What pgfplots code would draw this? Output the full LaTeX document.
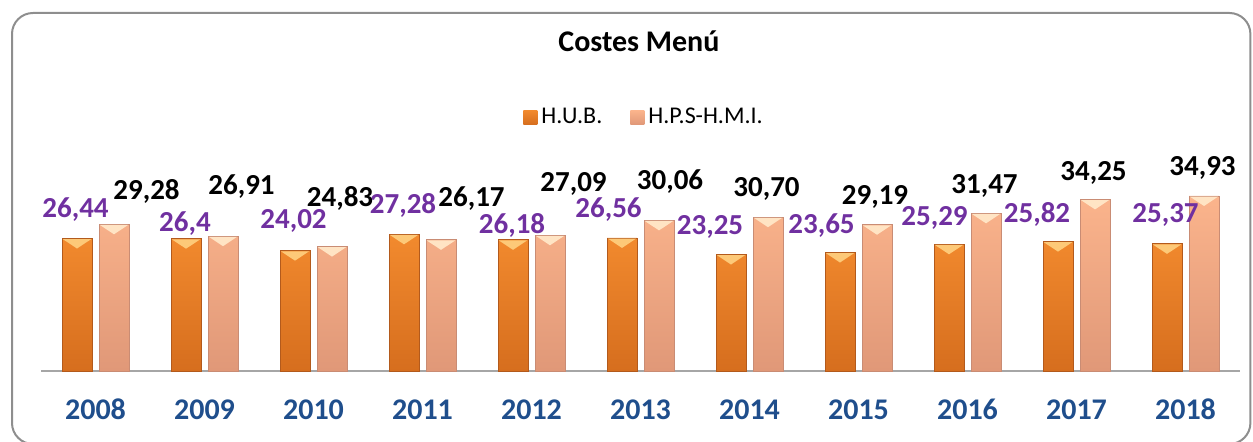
\documentclass[border=0pt]{standalone}
\usepackage{fontspec}
\setmainfont{Carlito}
\usepackage{pgfplots}
\pgfplotsset{compat=1.18}
\usepackage{pgfplotstable}

% bar colours
\definecolor{hubbot}{HTML}{D66E1E}
\definecolor{hubmid}{HTML}{F28A2E}
\definecolor{hublight}{HTML}{FDC978}
\definecolor{hubedge}{HTML}{B35A1C}
\definecolor{hpsbot}{HTML}{E09878}
\definecolor{hpsmid}{HTML}{FBB48C}
\definecolor{hpslight}{HTML}{FFE4C4}
\definecolor{hpsedge}{HTML}{C98C74}
\definecolor{labpurple}{HTML}{7030A0}
\definecolor{yearblue}{HTML}{1F4E8C}
\definecolor{framegray}{HTML}{8E8E8E}
\definecolor{axisgray}{HTML}{A6A6A6}

\pgfdeclareverticalshading{hubshade}{100bp}{color(0bp)=(hubbot); color(25bp)=(hubbot); color(75bp)=(hubmid); color(100bp)=(hubmid)}
\pgfdeclareverticalshading{hpsshade}{100bp}{color(0bp)=(hpsbot); color(25bp)=(hpsbot); color(75bp)=(hpsmid); color(100bp)=(hpsmid)}

% bevelled tops of the left and right bar of each year
\pgfdeclareplotmark{bevelL}{%
  \pgfpathmoveto{\pgfqpoint{-16.35pt}{-0.3pt}}%
  \pgfpathlineto{\pgfqpoint{-2.15pt}{-0.3pt}}%
  \pgfpathlineto{\pgfqpoint{-9.25pt}{-5pt}}%
  \pgfpathclose
  \pgfusepathqfill}
\pgfdeclareplotmark{bevelR}{%
  \pgfpathmoveto{\pgfqpoint{2.15pt}{-0.3pt}}%
  \pgfpathlineto{\pgfqpoint{16.35pt}{-0.3pt}}%
  \pgfpathlineto{\pgfqpoint{9.25pt}{-5pt}}%
  \pgfpathclose
  \pgfusepathqfill}

% x = year index, y = cost, dx/dy = label offset (pt)
\pgfplotstableread{
x y dx dy
0 26.44 -0.75 10.75
1 26.40 -0.50 3.85
2 24.02 -0.75 10.85
3 27.28 -0.50 10.65
4 26.18 -0.50 3.40
5 26.56 -6.75 10.45
6 23.25 -10.50 10.25
7 23.65 -9.25 9.75
8 25.29 -7.25 9.15
9 25.82 -10.50 9.80
10 25.37 -0.75 10.45
}\hubdata

\pgfplotstableread{
x y dx dy
0 29.28 16.25 12.65
1 26.91 9.25 20.60
2 24.83 4.00 19.80
3 26.17 15.25 16.45
4 27.09 11.75 21.65
5 30.06 5.50 15.20
6 30.70 -0.75 10.10
7 29.19 -1.00 9.90
8 31.47 -0.75 10.15
9 34.25 -0.75 9.70
10 34.93 -0.75 10.00
}\hpsdata

\pgfplotsset{
  sqlegend/.style={legend image code/.code={\path[##1,draw=none] (0pt,-3.5pt) rectangle (7pt,3.5pt);}},
}

\begin{document}
\begin{tikzpicture}
\path[use as bounding box] (0,0) rectangle (626.5pt,221pt);
\draw[framegray, line width=1pt, rounded corners=10.5pt] (6pt,-1pt) rectangle (625.2pt,214.5pt);
\begin{axis}[
  at={(20.5pt,35.5pt)}, anchor=south west,
  scale only axis, width=599.5pt, height=100.2pt,
  xmin=-0.5, xmax=10.5, ymin=0, ymax=40,
  enlargelimits=false, clip=false,
  ybar=3.5pt, bar width=15pt,
  axis x line=bottom, axis y line=none,
  x axis line style={-, draw=axisgray, line width=1pt},
  xtick={0,...,10},
  xticklabels={\textbf{2008},\textbf{2009},\textbf{2010},\textbf{2011},\textbf{2012},\textbf{2013},\textbf{2014},\textbf{2015},\textbf{2016},\textbf{2017},\textbf{2018}},
  xtick style={draw=none}, major tick length=0pt,
  xticklabel style={font=\fontsize{15}{18}\selectfont\bfseries, text=yearblue, anchor=base, yshift=-24.5pt},
  /pgf/number format/assume math mode=true,
  title={Costes Menú},
  title style={at={(0.4987,1.532)}, anchor=base, font=\fontsize{15}{18}\selectfont\bfseries},
  legend columns=2,
  legend style={at={(0.5038,1.265)}, anchor=center, draw=none, fill=none,
    font=\fontsize{12}{14}\selectfont, /tikz/every even column/.append style={column sep=12pt}},
  visualization depends on={\thisrow{dx}\as\labdx},
  visualization depends on={\thisrow{dy}\as\labdy},
  nodes near coords style={anchor=base, xshift={\labdx*1pt}, yshift={\labdy*1pt},
    font=\fontsize{14.5}{17}\selectfont\bfseries, inner sep=0pt},
]
\addplot[shading=hubshade, draw=hubedge, line width=0.4pt, sqlegend,
  mark=bevelL, mark options={fill=hublight, draw=none},
  nodes near coords={\pgfmathprintnumber[fixed,precision=2,use comma]{\pgfplotspointmeta}},
  nodes near coords style={text=labpurple}]
  table[x=x,y=y] {\hubdata};
\addplot[shading=hpsshade, draw=hpsedge, line width=0.4pt, sqlegend,
  mark=bevelR, mark options={fill=hpslight, draw=none},
  nodes near coords={\pgfmathprintnumber[fixed,fixed zerofill,precision=2,use comma]{\pgfplotspointmeta}},
  nodes near coords style={text=black}]
  table[x=x,y=y] {\hpsdata};
\legend{H.U.B., H.P.S-H.M.I.}
\end{axis}
\end{tikzpicture}
\end{document}
